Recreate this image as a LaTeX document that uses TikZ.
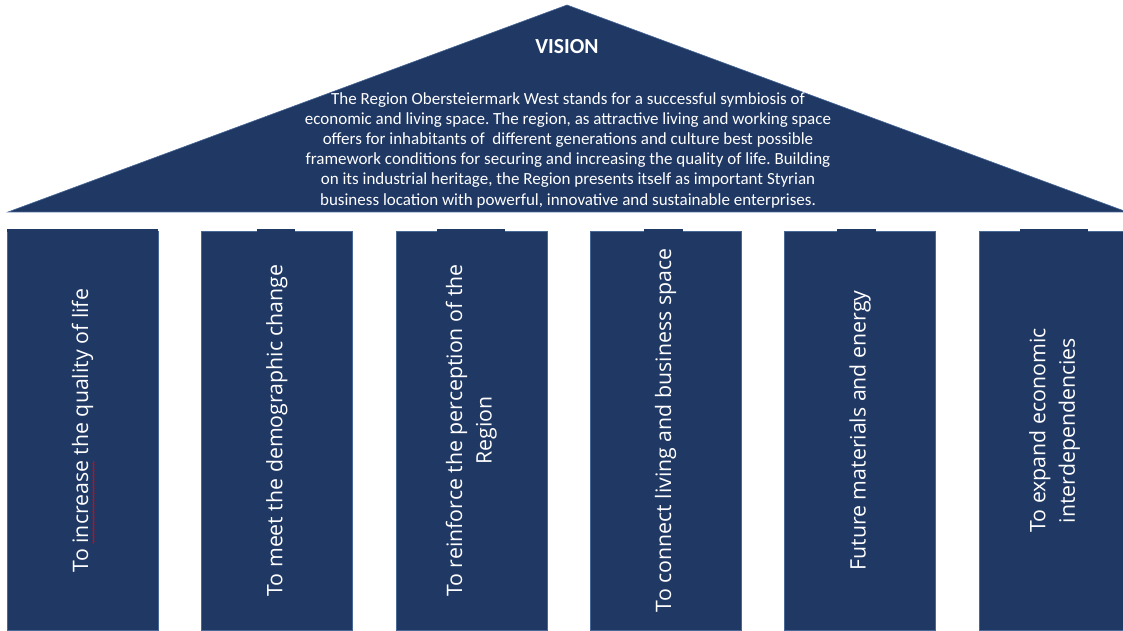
\documentclass[tikz,border=0pt]{standalone}
\usepackage{fontspec}
\setmainfont{Carlito}
\newfontfamily\pillarfont{Open Sans}
\usetikzlibrary{calc,decorations.pathmorphing}
\definecolor{roofblue}{RGB}{32,56,100}
\definecolor{edgeblue}{RGB}{72,104,152}
\frenchspacing

\begin{document}
\begin{tikzpicture}[x=1pt, y=1pt,
    pillar/.style={rotate=90, fill=roofblue, draw=edgeblue, line width=0.6pt,
        minimum width=399pt, minimum height=151pt, inner sep=0pt, text=white,
        align=center, font=\pillarfont\fontsize{21.3}{29.5}\selectfont}]
    \useasboundingbox (0,0) rectangle (1123,630);
    % roof
    \filldraw[fill=roofblue, draw=edgeblue, line width=0.6pt] (8,418) -- (567,625) -- (1127,418) -- cycle;
    \node[text=white, font=\bfseries\fontsize{21.5}{24}\selectfont] (vision) at (567,583) {VISION};
    \node[text=white, align=center, font=\fontsize{17}{20.2}\selectfont] (visiontext) at (568,480)
        {The Region Obersteiermark West stands for a successful symbiosis of\\
         economic and living space. The region, as attractive living and working space\\
         offers for inhabitants of \ different generations and culture best possible\\
         framework conditions for securing and increasing the quality of life. Building\\
         on its industrial heritage, the Region presents itself as important Styrian\\
         business location with powerful, innovative and sustainable enterprises.};
    % pillars
    \foreach \i/\txt in {0/{To increase the quality of life},
                         1/{To meet the demographic change},
                         2/{To reinforce the perception of the\\Region},
                         3/{To connect living and business space},
                         4/{Future materials and energy},
                         5/{To expand economic\\interdependencies}}
        \node[pillar] (p\i) at (82.5+194.4*\i,199.5) {\txt};
    % little tabs on top
    \foreach \a/\b in {7/158, 257/295, 437/505, 644/683, 837/876, 1020/1088}
        \fill[roofblue] (\a,398) rectangle (\b,400.5);
    %\node at (p0.north) {};
    \draw[red, line width=0.5pt, decorate, decoration={snake, amplitude=0.7pt, segment length=2.4pt}]
        ($(p0.center)+(11,-113)$) -- ($(p0.center)+(11,-30)$);
\end{tikzpicture}
\end{document}
